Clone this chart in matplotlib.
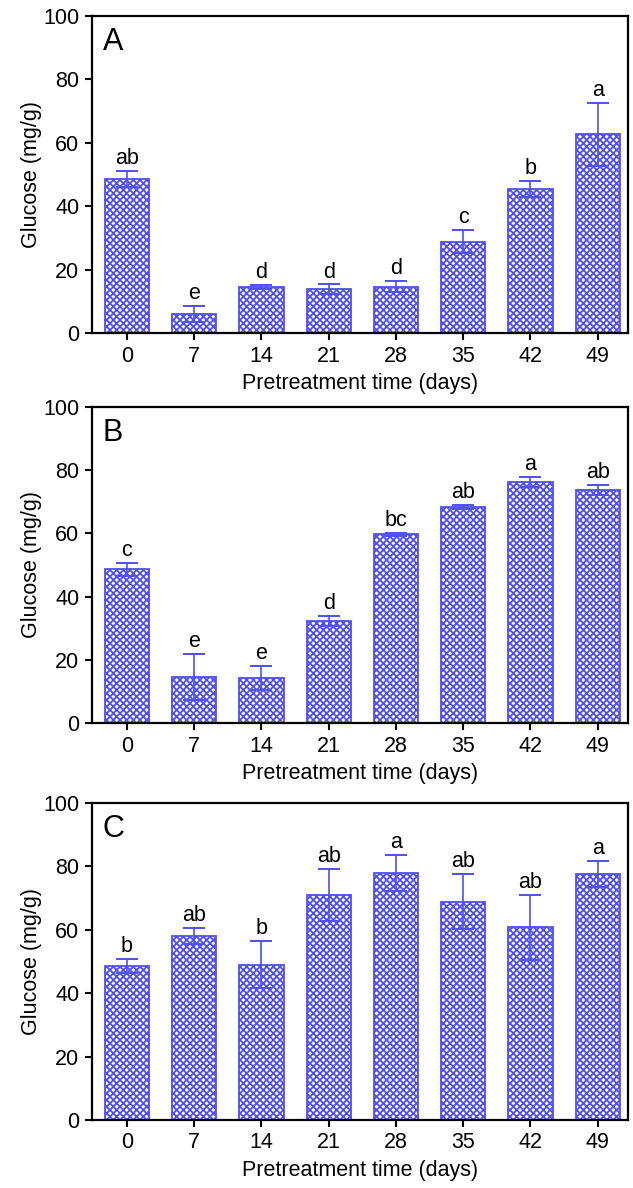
import matplotlib

matplotlib.use("Agg")
import matplotlib.pyplot as plt
import numpy as np

days = [0, 7, 14, 21, 28, 35, 42, 49]
panels = ["A", "B", "C"]

glucose_a = [48.6, 6.0, 14.5, 13.8, 14.6, 28.8, 45.5, 62.7]
sd_a = [2.4, 2.5, 0.7, 1.5, 1.8, 3.6, 2.5, 10.0]
letters_a = ["ab", "e", "d", "d", "d", "c", "b", "a"]

glucose_b = [48.6, 14.6, 14.3, 32.3, 59.7, 68.4, 76.3, 73.7]
sd_b = [2.1, 7.3, 3.7, 1.6, 0.5, 0.6, 1.5, 1.5]
letters_b = ["c", "e", "e", "d", "bc", "ab", "a", "ab"]

glucose_c = [48.7, 58.1, 49.0, 71.0, 77.9, 68.9, 60.8, 77.6]
sd_c = [2.2, 2.6, 7.5, 8.2, 5.8, 8.8, 10.3, 4.1]
letters_c = ["b", "ab", "b", "ab", "a", "ab", "ab", "a"]

BLUE = "#4f4ff5"

plt.rcParams["font.family"] = ["Liberation Sans", "DejaVu Sans"]
plt.rcParams["hatch.linewidth"] = 1.3

fig = plt.figure(figsize=(6.33, 11.88), dpi=100)
# axes boxes in pixels (top, bottom)
boxes = [(16, 333), (407, 723), (803, 1120)]
left, right = 92 / 633, 628 / 633
H = 1188

data = [
    (glucose_a, sd_a, letters_a),
    (glucose_b, sd_b, letters_b),
    (glucose_c, sd_c, letters_c),
]

x = np.arange(len(days))
for (top, bot), name, (vals, sds, lets) in zip(boxes, panels, data):
    ax = fig.add_axes([left, 1 - bot / H, right - left, (bot - top) / H])
    ax.bar(x, vals, width=0.66, color="white", edgecolor=BLUE, hatch="xxxxx",
           linewidth=1.3, zorder=2)
    ax.errorbar(x, vals, yerr=sds, fmt="none", ecolor=BLUE, elinewidth=1.2,
                capsize=8, capthick=1.4, zorder=3)
    for xi, v, s, lab in zip(x, vals, sds, lets):
        ax.text(xi, v + s + 0.6, lab, ha="center", va="bottom", fontsize=15.5)
    ax.set_xlim(-0.52, 7.45)
    ax.set_ylim(0, 100)
    ax.set_yticks(range(0, 101, 20))
    ax.set_xticks(x)
    ax.set_xticklabels([str(d) for d in days])
    ax.tick_params(direction="out", length=5, width=1.5, labelsize=15.5, pad=4)
    for sp in ax.spines.values():
        sp.set_linewidth(1.6)
    ax.set_xlabel("Pretreatment time (days)", fontsize=15.5, labelpad=5)
    ax.set_ylabel("Glucose (mg/g)", fontsize=15.5, labelpad=1)
    ax.text(0.02, 0.965, name, transform=ax.transAxes, ha="left", va="top",
            fontsize=22)

fig.savefig("out.png", dpi=100)
